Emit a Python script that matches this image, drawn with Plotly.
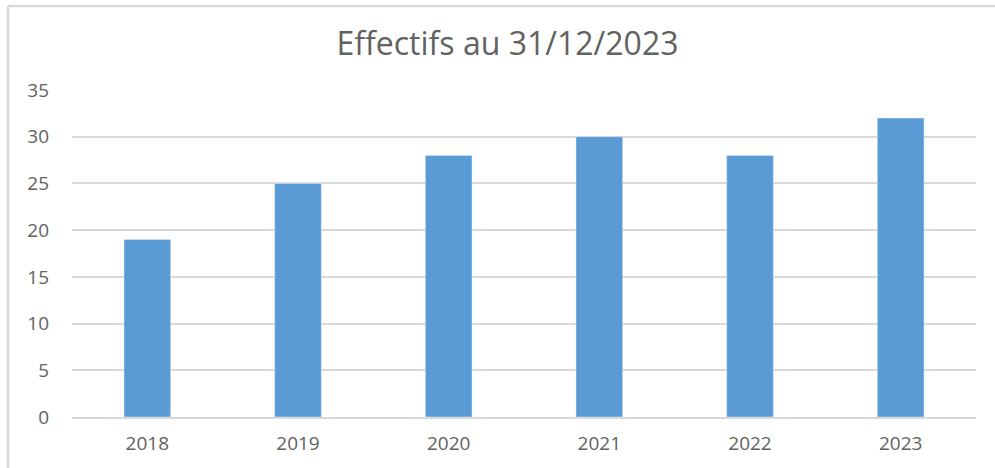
import plotly.graph_objects as go

years = ["2018", "2019", "2020", "2021", "2022", "2023"]
effectifs = [19, 25, 28, 30, 28, 32]
y_ticks = [0, 5, 10, 15, 20, 25, 30, 35]

L, R, T, B = 72, 19, 90, 51
W, H = 995, 468
pw, ph = W - L - R, H - T - B

FONT = "Open Sans, Liberation Sans, sans-serif"
GREY = "#626262"

fig = go.Figure(go.Bar(x=years, y=effectifs, marker_color="#5B9BD5", width=0.31))

fig.update_layout(
    width=W, height=H,
    margin=dict(l=L, r=R, t=T, b=B),
    paper_bgcolor="white", plot_bgcolor="white",
    title=dict(text="Effectifs au 31/12/2023", x=507.5 / W, xanchor="center",
               y=1 - 44 / H, yanchor="middle",
               font=dict(family=FONT, size=32, color=GREY)),
    font=dict(family=FONT, size=19, color=GREY),
    showlegend=False,
)
fig.update_xaxes(showgrid=False, showline=True, linecolor="#d9d9d9", linewidth=1.5,
                 ticks="", tickfont=dict(size=19, color=GREY), ticklabelstandoff=8)
fig.update_yaxes(range=[0, 35], tickvals=y_ticks, showgrid=True, gridcolor="#d9d9d9",
                 gridwidth=1.5, zeroline=False, showline=False, ticks="",
                 tickfont=dict(size=19, color=GREY), ticklabelstandoff=22)

# outer chart border (top and left visible)
x_left = (8 - L) / pw
y_top = (H - B - 6) / ph
y_bot = (H - B - H - 5) / ph
fig.add_shape(type="line", xref="paper", yref="paper", x0=x_left, x1=(W + 5 - L) / pw,
              y0=y_top, y1=y_top, line=dict(color="#d9d9d9", width=2.5))
fig.add_shape(type="line", xref="paper", yref="paper", x0=x_left, x1=x_left,
              y0=y_top, y1=y_bot, line=dict(color="#d9d9d9", width=2.5))

fig.write_html("out.html", config={"displayModeBar": False},
               post_script="document.body.style.margin='0';document.body.style.overflow='hidden';")
